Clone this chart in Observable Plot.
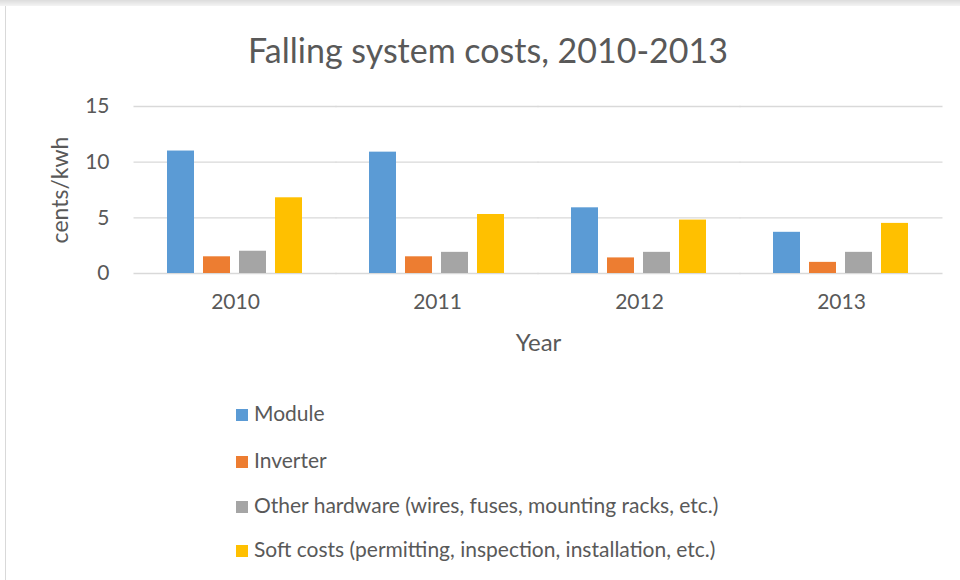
<!DOCTYPE html>
<html>
<head>
<meta charset="utf-8">
<script src="https://cdn.jsdelivr.net/npm/d3@7"></script>
<script src="https://cdn.jsdelivr.net/npm/@observablehq/plot@0.6"></script>
<style>
  html, body { margin: 0; padding: 0; background: #fff; }
  #page { position: relative; width: 960px; height: 580px; overflow: hidden; font-family: Lato, "Open Sans", sans-serif; color: #595959; }
  #topstrip { position: absolute; left: 0; top: 0; width: 960px; height: 6px; background: linear-gradient(#dcdcdc, #f4f4f4); }
  #leftline { position: absolute; left: 5px; top: 6px; width: 1px; height: 574px; background: #d9d9d9; }
  #title { position: absolute; left: 0; width: 960px; top: 32px; text-align: center; font-size: 34px; line-height: 36px; color: #595959; padding-left: 16px; box-sizing: border-box; }
  #chart { position: absolute; left: 0; top: 80px; }
  .lg { position: absolute; left: 236px; font-size: 21px; line-height: 22px; color: #595959; white-space: nowrap; }
  .lg span.sw { display: inline-block; width: 12px; height: 12px; margin-right: 6px; vertical-align: 0px; }
</style>
</head>
<body>
<div id="page">
  <div id="topstrip"></div>
  <div id="leftline"></div>
  <div id="title">Falling system costs, 2010-2013</div>
  <div id="chart"></div>
  <div id="legend"></div>
</div>
<script>
const years = ["2010", "2011", "2012", "2013"];
const series = [
  "Module",
  "Inverter",
  "Other hardware (wires, fuses, mounting racks, etc.)",
  "Soft costs (permitting, inspection, installation, etc.)"
];
const moduleCost = [11.0, 10.9, 5.9, 3.7];
const inverterCost = [1.5, 1.5, 1.4, 1.0];
const otherHardwareCost = [2.0, 1.9, 1.9, 1.9];
const softCost = [6.8, 5.3, 4.8, 4.5];
const colors = ["#5B9BD5", "#ED7D31", "#A5A5A5", "#FFC000"];
const yTicks = [0, 5, 10, 15];
const yLabel = "cents/kwh";
const xLabel = "Year";

const seriesValues = [moduleCost, inverterCost, otherHardwareCost, softCost];
const data = [];
years.forEach((yr, i) => {
  series.forEach((s, j) => {
    data.push({year: yr, series: s, value: seriesValues[j][i]});
  });
});

const font = "Lato, 'Open Sans', sans-serif";

// facet layout: step = 812/4 = 203, facet width = 139, gap = 64
const gridExtend = -32.5;

const chart = Plot.plot({
  width: 960,
  height: 285,
  marginTop: 26,
  marginBottom: 92,
  marginLeft: 132,
  marginRight: 16,
  style: {fontFamily: font, fontSize: "21px", color: "#595959", background: "transparent", overflow: "visible"},
  fx: {domain: years, paddingInner: 0.315, paddingOuter: 0.158, label: null},
  x: {domain: series, paddingInner: 0.24, paddingOuter: 0, axis: null},
  y: {domain: [0, 15], label: null},
  color: {domain: series, range: colors},
  marks: [
    Plot.ruleY(yTicks, {stroke: "#d9d9d9", strokeWidth: 1.3, insetLeft: gridExtend, insetRight: gridExtend}),
    Plot.barY(data, {fx: "year", x: "series", y: "value", fill: "series"}),
    Plot.axisY(yTicks, {tickSize: 0, tickPadding: 57, fontSize: 21, label: null, fill: "#595959"}),
    Plot.axisY(yTicks, {tickSize: 0, tickFormat: () => "", fontSize: 23, label: yLabel, labelAnchor: "center", labelOffset: 115, labelArrow: "none", fill: "#595959"}),
    Plot.axisFx({anchor: "bottom", tickSize: 0, tickPadding: 21, fontSize: 21, label: null, fill: "#595959"}),
    Plot.text([xLabel], {facet: "super", frameAnchor: "bottom", dy: 77, fontSize: 24, fill: "#595959"})
  ]
});
document.getElementById("chart").appendChild(chart);

const legend = document.getElementById("legend");
const legendTops = [402, 449, 494, 538];
series.forEach((s, j) => {
  const d = document.createElement("div");
  d.className = "lg";
  d.style.top = legendTops[j] + "px";
  const sw = document.createElement("span");
  sw.className = "sw";
  sw.style.background = colors[j];
  d.appendChild(sw);
  d.appendChild(document.createTextNode(s));
  legend.appendChild(d);
});
</script>
</body>
</html>
